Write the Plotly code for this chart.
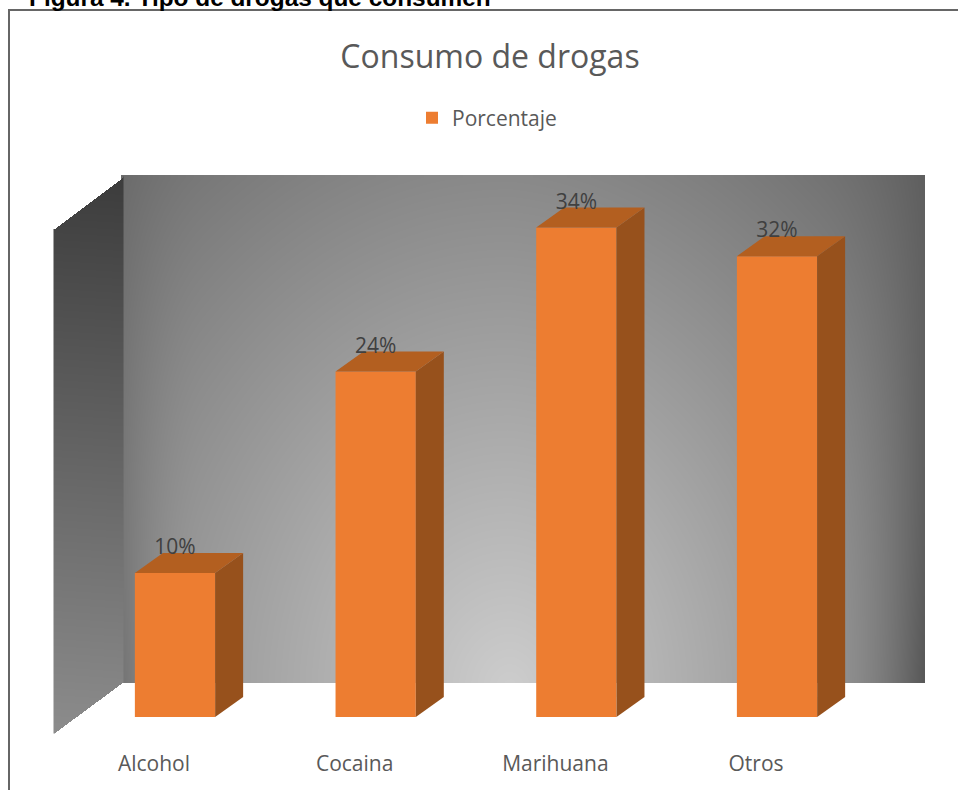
import numpy as np
import plotly.graph_objects as go

categories = ["Alcohol", "Cocaina", "Marihuana", "Otros"]
values = [10, 24, 34, 32]
series_name = "Porcentaje"
title_text = "Consumo de drogas"
caption_text = "Figura 4. Tipo de drogas que consumen"

W, H = 958, 790
PLOT_B = 749            # bottom of plot area in px
UX = 200.67             # px per category
UY = 14.4               # px per percent
X0PX, Y0PX = 175.0, 717.0
BAR_W = 0.4
DX, DY = 28 / UX, 20 / UY   # depth offset in data units

xr = [(0 - X0PX) / UX, (W - X0PX) / UX]
yr = [(Y0PX - PLOT_B) / UY, Y0PX / UY]
def px_x(p): return (np.asarray(p, float) - X0PX) / UX
def px_y(p): return (Y0PX - np.asarray(p, float)) / UY

fig = go.Figure()
GRAY = [[0, "rgb(0,0,0)"], [1, "rgb(255,255,255)"]]

# back wall (gradient)
bx = np.arange(123, 925, 4.0)
by = np.arange(177, 683, 4.0)
BX, BY = np.meshgrid(bx, by)
dxn = (BX - 510) / 410
dyn = (BY - 690) / 505
d = np.sqrt(dxn ** 2 + dyn ** 2)
edge = 672 * np.clip(np.abs(dxn) - 0.75, 0, None) ** 2 * (1 - 0.8 * np.abs(dyn))
zb = np.clip(205 - 67 * d - edge - 6 * np.clip(dxn, 0, None), 88, 205)
fig.add_trace(go.Heatmap(x=px_x(bx), y=px_y(by), z=zb, colorscale=GRAY, zmin=0, zmax=255,
                         zsmooth="best", showscale=False, hoverinfo="skip"))

# left wall (gradient, clipped to its parallelogram)
lx = np.arange(54, 124, 1.0)
ly = np.arange(177, 734, 1.0)
LX, LY = np.meshgrid(lx, ly)
t = (LX - 54) / 69
top = 229 - 52 * t
bot = 733 - 51 * t
zl = 60 + 72 * (LY - top) / (bot - top) + 8 * (1 - t)
zl = np.where((LY >= top) & (LY <= bot), zl, np.nan)
fig.add_trace(go.Heatmap(x=px_x(lx), y=px_y(ly), z=zl, colorscale=GRAY, zmin=0, zmax=255,
                         showscale=False, hoverinfo="skip", hoverongaps=False))

# front faces
idx = list(range(len(categories)))
fig.add_trace(go.Bar(x=idx, y=values, width=BAR_W, name=series_name,
                     marker=dict(color="#ED7D31", line=dict(width=0)), hoverinfo="skip"))

# side and top faces
for i, v in zip(idx, values):
    l, r = i - BAR_W / 2, i + BAR_W / 2
    fig.add_trace(go.Scatter(x=[r, r + DX, r + DX, r, r], y=[0, DY, v + DY, v, 0], mode="lines",
                             fill="toself", fillcolor="#97511C", line=dict(width=0),
                             showlegend=False, hoverinfo="skip"))
    fig.add_trace(go.Scatter(x=[l, r, r + DX, l + DX, l], y=[v, v, v + DY, v + DY, v], mode="lines",
                             fill="toself", fillcolor="#B35F20", line=dict(width=0),
                             showlegend=False, hoverinfo="skip"))

# value labels
fig.add_trace(go.Scatter(x=idx, y=[v + 24 / UY for v in values], mode="text",
                         text=[f"{v}%" for v in values], textposition="middle center",
                         textfont=dict(family="Open Sans", size=21, color="#404040"),
                         showlegend=False, hoverinfo="skip", cliponaxis=False))

fig.update_layout(
    width=W, height=H,
    margin=dict(l=0, r=0, t=0, b=H - PLOT_B, pad=0),
    paper_bgcolor="white", plot_bgcolor="white",
    title=dict(text=title_text, x=490 / W, xanchor="center", y=1 - 57 / H, yanchor="middle",
               font=dict(family="Open Sans", size=32, color="#595959")),
    legend=dict(orientation="h", x=487 / W, xanchor="center", y=1 - 118 / PLOT_B, yanchor="middle",
                font=dict(family="Open Sans", size=21, color="#595959"), bgcolor="rgba(0,0,0,0)"),
    showlegend=True,
    xaxis=dict(range=xr, showgrid=False, zeroline=False, showline=False, ticks="",
               tickmode="array", tickvals=[i - 21 / UX for i in idx], ticktext=categories,
               tickfont=dict(family="Open Sans", size=21, color="#595959")),
    yaxis=dict(range=yr, showgrid=False, zeroline=False, showline=False, ticks="", showticklabels=False),
    annotations=[dict(text=f"<b>{caption_text}</b>", xref="paper", yref="paper",
                      x=28 / W, xanchor="left", y=1 - 12 / PLOT_B, yanchor="bottom", showarrow=False,
                      font=dict(family="Liberation Sans", size=24.4, color="#000000"),
                      borderpad=0)],
    shapes=[dict(type="rect", xref="paper", yref="paper", layer="above",
                 x0=9 / W, x1=(W + 20) / W, y0=(PLOT_B - H - 20) / PLOT_B, y1=1 - 10 / PLOT_B,
                 line=dict(color="#666666", width=2), fillcolor="rgba(0,0,0,0)")],
)

fig.write_html("out.html", config=dict(displayModeBar=False),
               post_script="document.body.style.margin='0';document.body.style.overflow='hidden';")
